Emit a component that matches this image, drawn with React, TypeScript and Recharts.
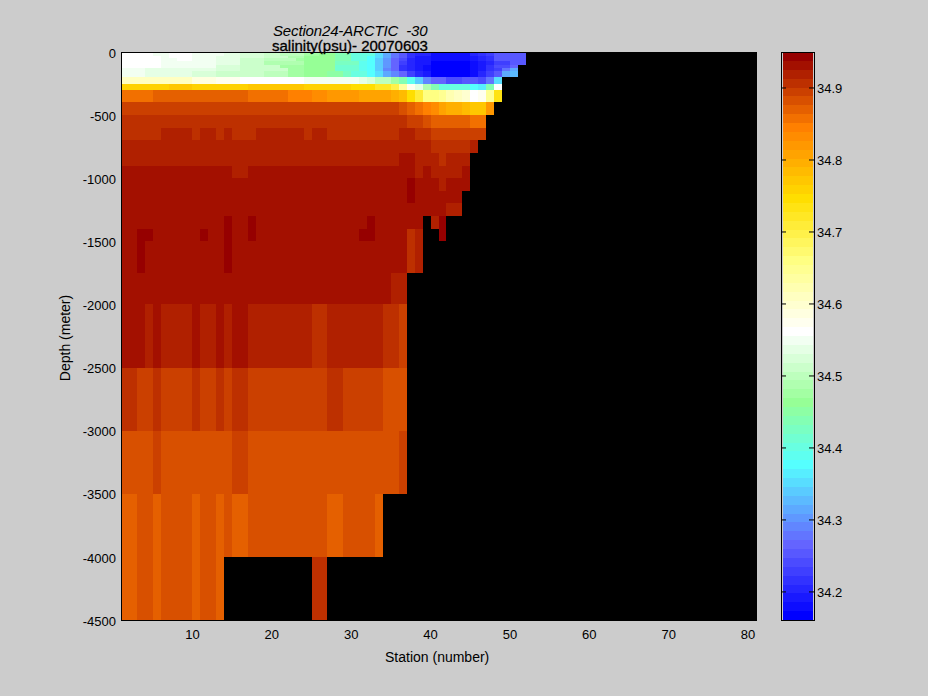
import { BarChart, Bar, Cell, XAxis, YAxis } from "recharts";

// top of each depth layer (m), the last layer runs down to the axis limit
const layerTops = [
  0, 30, 50, 75, 100, 125, 150, 200, 250, 300, 400, 500, 600, 700, 800, 900, 1000, 1100, 1200, 1300,
  1400, 1500, 1750, 2000, 2500, 3000, 3500, 4000,
];
const axisBottom = 4500;
const stationCount = 80;
const xTicks = [10, 20, 30, 40, 50, 60, 70, 80];
const yTicks = [0, -500, -1000, -1500, -2000, -2500, -3000, -3500, -4000, -4500];
const barTicks = [34.2, 34.3, 34.4, 34.5, 34.6, 34.7, 34.8, 34.9];
const cMin = 34.161;
const cMax = 34.95;

// salinity per layer as runs: [last station column of the run, psu], nothing after the last run
type Run = [number, number | null];
const s0: Run[] = [[4, 34.561], [6, 34.549], [9, 34.561], [13, 34.549], [15, 34.537], [18, 34.524], [20, 34.512], [23, 34.5], [25, 34.475], [27, 34.463], [29, 34.438], [32, 34.401], [33, 34.352], [34, 34.315], [35, 34.278], [36, 34.253], [37, 34.217], [39, 34.204], [44, 34.18], [45, 34.204], [46, 34.217], [47, 34.229], [51, 34.253]];
const s30: Run[] = [[5, 34.561], [6, 34.549], [9, 34.561], [12, 34.549], [15, 34.537], [18, 34.524], [21, 34.512], [23, 34.487], [27, 34.463], [29, 34.438], [31, 34.401], [32, 34.377], [33, 34.352], [34, 34.315], [35, 34.278], [36, 34.253], [37, 34.217], [39, 34.192], [44, 34.18], [45, 34.192], [46, 34.204], [47, 34.217], [51, 34.253]];
const s50: Run[] = [[5, 34.561], [7, 34.549], [9, 34.561], [12, 34.549], [15, 34.537], [18, 34.512], [22, 34.5], [23, 34.475], [27, 34.463], [29, 34.438], [31, 34.401], [32, 34.377], [33, 34.34], [34, 34.303], [35, 34.266], [36, 34.241], [37, 34.204], [39, 34.192], [44, 34.18], [45, 34.192], [46, 34.204], [47, 34.217], [51, 34.253]];
const s75: Run[] = [[5, 34.561], [12, 34.549], [15, 34.537], [18, 34.512], [23, 34.487], [27, 34.463], [30, 34.426], [31, 34.389], [32, 34.377], [33, 34.34], [34, 34.303], [35, 34.266], [36, 34.229], [37, 34.204], [39, 34.192], [44, 34.167], [45, 34.18], [46, 34.192], [47, 34.204], [49, 34.229], [51, 34.253]];
const s100: Run[] = [[5, 34.561], [12, 34.549], [15, 34.524], [20, 34.512], [23, 34.475], [27, 34.463], [30, 34.414], [31, 34.389], [32, 34.377], [33, 34.34], [34, 34.303], [35, 34.266], [36, 34.217], [37, 34.204], [38, 34.192], [39, 34.18], [44, 34.167], [45, 34.18], [46, 34.192], [47, 34.217], [49, 34.241], [50, 34.266]];
const s125: Run[] = [[3, 34.549], [12, 34.537], [15, 34.524], [21, 34.512], [23, 34.475], [27, 34.463], [30, 34.414], [31, 34.389], [32, 34.377], [33, 34.34], [34, 34.29], [35, 34.266], [36, 34.217], [37, 34.204], [38, 34.192], [39, 34.18], [44, 34.167], [45, 34.18], [46, 34.192], [47, 34.217], [48, 34.229], [49, 34.278], [50, 34.315]];
const s150: Run[] = [[3, 34.549], [9, 34.537], [12, 34.524], [18, 34.512], [21, 34.5], [23, 34.475], [26, 34.463], [28, 34.45], [29, 34.426], [31, 34.401], [32, 34.377], [33, 34.352], [34, 34.315], [35, 34.29], [36, 34.266], [37, 34.229], [38, 34.204], [39, 34.192], [44, 34.167], [45, 34.18], [46, 34.204], [47, 34.229], [48, 34.253], [49, 34.315], [50, 34.327]];
const s200: Run[] = [[9, 34.611], [12, 34.586], [15, 34.574], [20, 34.561], [23, 34.561], [30, 34.549], [31, 34.537], [32, 34.524], [34, 34.5], [35, 34.475], [36, 34.438], [37, 34.389], [38, 34.34], [39, 34.29], [41, 34.266], [43, 34.241], [45, 34.253], [46, 34.241], [47, 34.278], [48, 34.352]];
const s250: Run[] = [[6, 34.759], [9, 34.771], [16, 34.759], [23, 34.771], [29, 34.759], [32, 34.746], [34, 34.722], [35, 34.697], [36, 34.635], [37, 34.574], [38, 34.537], [39, 34.487], [40, 34.438], [44, 34.401], [45, 34.377], [46, 34.364], [47, 34.438], [48, 34.561]];
const s300: Run[] = [[4, 34.857], [16, 34.87], [21, 34.857], [24, 34.845], [26, 34.833], [30, 34.82], [34, 34.808], [35, 34.796], [36, 34.783], [37, 34.746], [38, 34.709], [40, 34.66], [41, 34.648], [42, 34.623], [43, 34.611], [44, 34.598], [45, 34.561], [46, 34.574], [47, 34.648], [48, 34.734]];
const s400: Run[] = [[35, 34.894], [36, 34.882], [37, 34.87], [38, 34.857], [39, 34.845], [40, 34.833], [41, 34.808], [43, 34.796], [44, 34.783], [46, 34.771], [47, 34.82]];
const s500: Run[] = [[36, 34.907], [38, 34.894], [39, 34.882], [44, 34.87], [46, 34.857]];
const s600: Run[] = [[5, 34.907], [9, 34.919], [10, 34.907], [12, 34.919], [13, 34.907], [14, 34.919], [17, 34.907], [23, 34.919], [24, 34.907], [26, 34.919], [35, 34.907], [37, 34.919], [39, 34.907], [46, 34.894]];
const s700: Run[] = [[39, 34.919], [44, 34.907], [45, 34.919]];
const s800: Run[] = [[35, 34.919], [37, 34.931], [40, 34.919], [41, 34.907], [44, 34.919]];
const s900: Run[] = [[14, 34.931], [16, 34.919], [37, 34.931], [38, 34.919], [39, 34.931], [43, 34.919], [44, 34.931]];
const s1000: Run[] = [[36, 34.931], [37, 34.944], [40, 34.931], [41, 34.919], [44, 34.931]];
const s1100: Run[] = [[36, 34.931], [37, 34.944], [43, 34.931]];
const s1200: Run[] = [[41, 34.931], [43, 34.919]];
const s1300: Run[] = [[13, 34.931], [14, 34.944], [16, 34.931], [17, 34.944], [31, 34.931], [32, 34.944], [38, 34.931], [39, null], [40, 34.919], [41, 34.944]];
const s1400: Run[] = [[2, 34.931], [4, 34.944], [10, 34.931], [11, 34.944], [13, 34.931], [14, 34.944], [16, 34.931], [17, 34.944], [30, 34.931], [32, 34.944], [36, 34.931], [37, 34.907], [38, 34.919], [40, null], [41, 34.944]];
const s1500: Run[] = [[2, 34.931], [3, 34.944], [13, 34.931], [14, 34.944], [36, 34.931], [37, 34.907], [38, 34.919]];
const s1750: Run[] = [[34, 34.931], [36, 34.919]];
const s2000: Run[] = [[3, 34.931], [4, 34.919], [5, 34.931], [9, 34.919], [10, 34.931], [12, 34.919], [13, 34.931], [14, 34.919], [16, 34.931], [24, 34.919], [26, 34.907], [33, 34.919], [35, 34.907], [36, 34.894]];
const s2500: Run[] = [[2, 34.907], [4, 34.894], [5, 34.907], [9, 34.894], [10, 34.907], [12, 34.894], [13, 34.907], [14, 34.894], [16, 34.907], [26, 34.894], [28, 34.907], [33, 34.894], [36, 34.882]];
const s3000: Run[] = [[4, 34.882], [5, 34.894], [14, 34.882], [16, 34.894], [35, 34.882], [36, 34.894]];
const s3500: Run[] = [[2, 34.87], [4, 34.882], [5, 34.87], [9, 34.882], [10, 34.87], [12, 34.882], [13, 34.87], [14, 34.882], [16, 34.87], [26, 34.882], [28, 34.87], [32, 34.882], [33, 34.87]];
const s4000: Run[] = [[2, 34.87], [4, 34.882], [5, 34.87], [9, 34.882], [10, 34.87], [12, 34.882], [13, 34.87], [24, null], [26, 34.907]];

const layerRuns = [
  s0, s30, s50, s75, s100, s125, s150, s200, s250, s300, s400, s500, s600, s700, s800, s900, s1000,
  s1100, s1200, s1300, s1400, s1500, s1750, s2000, s2500, s3000, s3500, s4000,
];

// colour map anchors: [band index, r, g, b], 64 bands from blue through white to dark red
const paletteAnchors = [
  [0, 0, 0, 255],
  [8, 100, 100, 255],
  [17, 85, 255, 255],
  [24, 150, 255, 150],
  [32, 255, 255, 255],
  [40, 255, 255, 130],
  [47, 255, 222, 0],
  [55, 255, 128, 0],
  [63, 150, 0, 0],
];
const bandCount = 64;

function bandColor(band: number) {
  let i = 0;
  while (i < paletteAnchors.length - 2 && band > paletteAnchors[i + 1][0]) i++;
  const a = paletteAnchors[i];
  const b = paletteAnchors[i + 1];
  const t = (band - a[0]) / (b[0] - a[0]);
  const mix = (k: number) => Math.round(a[k] + (b[k] - a[k]) * t);
  return `rgb(${mix(1)},${mix(2)},${mix(3)})`;
}

function psuColor(v: number | null | undefined) {
  if (v == null) return "#000";
  const band = Math.floor(((v - cMin) / (cMax - cMin)) * bandCount);
  return bandColor(Math.max(0, Math.min(bandCount - 1, band)));
}

function expand(runs: Run[]) {
  const out: (number | null)[] = [];
  let col = 1;
  for (const [last, v] of runs) {
    for (; col <= last; col++) out.push(v);
  }
  for (; col <= stationCount; col++) out.push(null);
  return out;
}

const layerValues = layerRuns.map(expand);
const stationRows = layerValues[0].map((_, i) => {
  const row: Record<string, number> = { station: i + 1 };
  layerTops.forEach((top, k) => {
    const next = k + 1 < layerTops.length ? layerTops[k + 1] : axisBottom;
    row[`layer${k}`] = top - next;
  });
  return row;
});

const bandStep = (cMax - cMin) / bandCount;
const bandRow: Record<string, number | string> = { name: "psu", base: cMin };
for (let b = 0; b < bandCount; b++) bandRow[`band${b}`] = bandStep;

const font = '"Liberation Sans", Arial, sans-serif';
const absText = { position: "absolute", fontFamily: font, color: "#000", whiteSpace: "pre", lineHeight: 1 } as const;

// pixel-aligned cell, a touch wider than the band so columns never show a seam
function CellRect({ x, y, width, height, fill }: any) {
  return (
    <rect
      x={x}
      y={Math.min(y, y + height)}
      width={width + 0.5}
      height={Math.abs(height)}
      fill={fill}
      shapeRendering="crispEdges"
    />
  );
}

function ColorbarTick({ x, y, payload }: any) {
  const edge = x - 3;
  return (
    <g>
      <line x1={edge - 33} x2={edge - 28} y1={y} y2={y} stroke="#000" />
      <line x1={edge - 5} x2={edge} y1={y} y2={y} stroke="#000" />
      <text x={x} y={y + 5} fontSize={13} fontFamily={font} fill="#000">
        {payload.value.toFixed(1)}
      </text>
    </g>
  );
}

export default function App() {
  return (
    <div style={{ position: "absolute", left: 0, top: 0, width: 928, height: 696, background: "#cccccc", overflow: "hidden" }}>
      <BarChart
        width={928}
        height={696}
        data={stationRows}
        margin={{ top: 52, right: 172, bottom: 46, left: 61 }}
        barCategoryGap={0}
        barGap={0}
        style={{ position: "absolute", left: 0, top: 0 }}
      >
        {layerTops.map((top, k) => (
          <Bar
            key={top}
            dataKey={`layer${k}`}
            xAxisId="col"
            stackId="depth"
            barSize={7.9}
            isAnimationActive={false}
            shape={<CellRect />}
          >
            {stationRows.map((row, i) => (
              <Cell key={row.station} fill={psuColor(layerValues[k][i])} />
            ))}
          </Bar>
        ))}
        <XAxis xAxisId="col" dataKey="station" type="category" height={0} hide />
        <XAxis
          xAxisId="num"
          dataKey="station"
          type="number"
          domain={[1, 81]}
          ticks={xTicks}
          allowDataOverflow
          height={30}
          axisLine={false}
          tickLine={false}
          tickSize={0}
          tickMargin={10}
          interval={0}
          tick={{ fontSize: 13, fontFamily: font, fill: "#000" }}
        />
        <YAxis
          type="number"
          domain={[-axisBottom, 0]}
          ticks={yTicks}
          allowDataOverflow
          width={60}
          axisLine={false}
          tickLine={false}
          tickSize={0}
          tickMargin={5}
          interval={0}
          tick={{ fontSize: 13, fontFamily: font, fill: "#000", dy: 1 }}
        />
      </BarChart>
      <div style={{ position: "absolute", left: 121, top: 52, width: 636, height: 569, border: "1px solid #000", boxSizing: "border-box" }} />

      <BarChart
        width={158}
        height={696}
        data={[bandRow]}
        margin={{ top: 52, right: 74, bottom: 76, left: 11 }}
        barCategoryGap={0}
        style={{ position: "absolute", left: 770, top: 0 }}
      >
        <Bar dataKey="base" stackId="cb" barSize={33} fill="transparent" isAnimationActive={false} />
        {Array.from({ length: bandCount }, (_, b) => (
          <Bar
            key={b}
            dataKey={`band${b}`}
            stackId="cb"
            barSize={33}
            fill={bandColor(b)}
            shapeRendering="crispEdges"
            isAnimationActive={false}
          />
        ))}
        <XAxis dataKey="name" type="category" height={0} hide />
        <YAxis
          orientation="right"
          type="number"
          domain={[cMin, cMax]}
          ticks={barTicks}
          allowDataOverflow
          width={40}
          axisLine={false}
          tickLine={false}
          tickSize={0}
          tickMargin={3}
          interval={0}
          tick={<ColorbarTick />}
        />
      </BarChart>
      <div style={{ position: "absolute", left: 781, top: 52, width: 34, height: 569, border: "1px solid #000", boxSizing: "border-box" }} />

      <div style={{ ...absText, left: 273, top: 23, fontSize: 15, fontStyle: "italic", letterSpacing: -0.15 }}>Section24-ARCTIC  -30</div>
      <div style={{ ...absText, left: 272, top: 38, fontSize: 15, WebkitTextStroke: "0.3px #000" }}>salinity(psu)- 20070603</div>
      <div style={{ ...absText, left: 385, top: 650, fontSize: 14 }}>Station (number)</div>
      <div style={{ ...absText, left: 65, top: 338, fontSize: 14, transform: "translate(-50%, -50%) rotate(-90deg)" }}>Depth (meter)</div>
    </div>
  );
}
